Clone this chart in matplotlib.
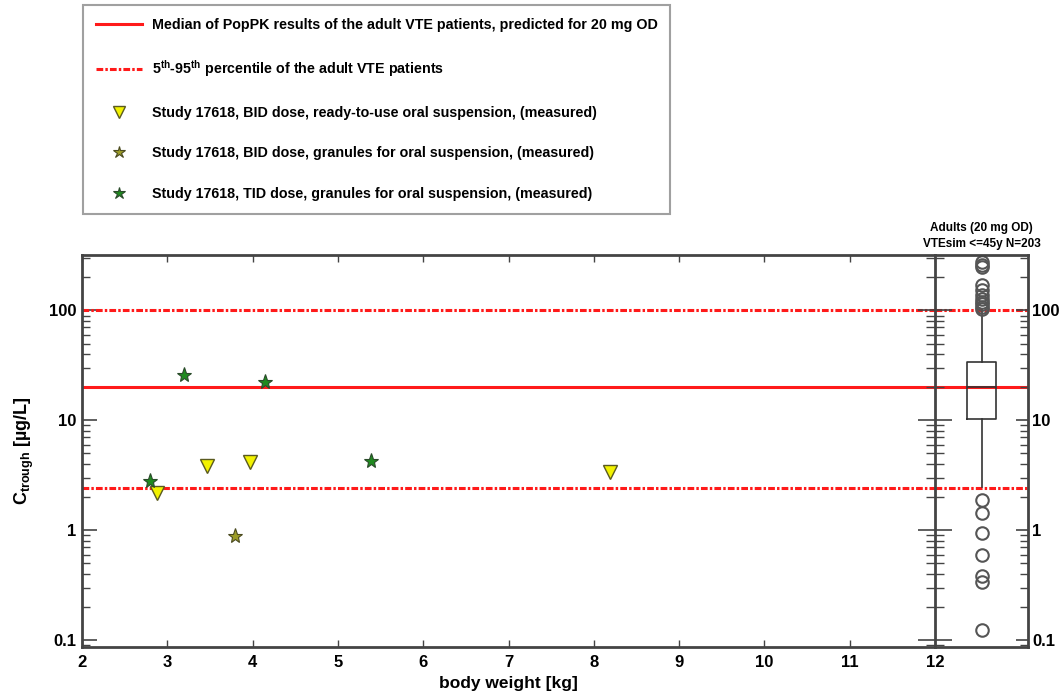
import matplotlib
matplotlib.use("Agg")
import matplotlib.pyplot as plt
from matplotlib.ticker import LogLocator, FixedLocator, NullFormatter

plt.rcParams['font.family'] = ['Liberation Sans', 'DejaVu Sans']
plt.rcParams['mathtext.fontset'] = 'custom'
plt.rcParams['mathtext.rm'] = 'Liberation Sans:bold'
plt.rcParams['mathtext.bf'] = 'Liberation Sans:bold'
plt.rcParams['mathtext.it'] = 'Liberation Sans:bold'

# Reference concentrations of adult VTE patients (20 mg OD)
adult_median = 20.0
adult_p05 = 2.4
adult_p95 = 100.0

# Study 17618 measured trough concentrations
rtu_bid_weight = [2.88, 3.47, 3.97, 8.19]
rtu_bid_ctrough = [2.17, 3.8, 4.13, 3.35]

gran_bid_weight = [3.79]
gran_bid_ctrough = [0.89]

gran_tid_weight = [2.80, 3.20, 4.15, 5.39]
gran_tid_ctrough = [2.83, 26.0, 22.2, 4.3]

# Simulated adults (<=45 y, N=203) summary for the box plot
box_q1 = 10.3
box_median = 20.0
box_q3 = 34.0
box_whisker_low = 2.45
box_whisker_high = 100.0
box_outliers = [260, 275, 250, 171, 153, 139, 128, 120, 114, 108, 103,
                1.9, 1.44, 0.95, 0.59, 0.38, 0.335, 0.123]

x_ticks = [2, 3, 4, 5, 6, 7, 8, 9, 10, 11, 12]
y_ticks = [0.1, 1, 10, 100]
y_ticklabels = ['0.1', '1', '10', '100']

W, H = 1063, 698
fig = plt.figure(figsize=(W / 100, H / 100), dpi=100)

frame_c = '#444444'
ax = fig.add_axes([82 / W, 1 - 647 / H, (935 - 82) / W, (647 - 255) / H])
axb = fig.add_axes([935 / W, 1 - 647 / H, (1028 - 935) / W, (647 - 255) / H], sharey=ax)

ylim = (0.0863, 320)

# reference lines
red = '#ff1a1a'
pct_dash = (0, (2.2, 0.7, 0.8, 0.7))
median_line, = ax.plot([2, 12], [adult_median, adult_median], color=red, lw=2.2)
pct_line, = ax.plot([2, 12], [adult_p05, adult_p05], color=red, lw=2.2, ls=pct_dash)
ax.plot([2, 12], [adult_p95, adult_p95], color=red, lw=2.2, ls=pct_dash)
for yv, ls in [(adult_median, '-'), (adult_p05, pct_dash), (adult_p95, pct_dash)]:
    axb.plot([0, 1], [yv, yv], color=red, lw=2.2, ls=ls, zorder=1)

# measured data
rtu, = ax.plot(rtu_bid_weight, rtu_bid_ctrough, ls='none', marker='v', ms=10,
               mfc='#f2f200', mec='#5a5a20', mew=1.0, zorder=5)
gbid, = ax.plot(gran_bid_weight, gran_bid_ctrough, ls='none', marker='*', ms=11,
                mfc='#9c9c28', mec='#4a4a20', mew=0.8, zorder=5)
gtid, = ax.plot(gran_tid_weight, gran_tid_ctrough, ls='none', marker='*', ms=11,
                mfc='#1f8a1f', mec='#2a4a2a', mew=0.8, zorder=5)

ax.set_yscale('log')
ax.set_xlim(2, 12)
ax.set_ylim(*ylim)
ax.set_xticks(x_ticks)
ax.set_xticklabels([str(t) for t in x_ticks], fontsize=12, fontweight='bold')
ax.yaxis.set_major_locator(FixedLocator(y_ticks))
ax.set_yticklabels(y_ticklabels, fontsize=12, fontweight='bold')
ax.yaxis.set_minor_locator(LogLocator(base=10, subs=range(2, 10)))
ax.yaxis.set_minor_formatter(NullFormatter())
ax.tick_params(axis='x', which='major', direction='in', top=True, bottom=True,
               length=5, width=1, color=frame_c, pad=6)
ax.tick_params(axis='y', which='major', direction='in', left=True, right=False,
               length=11, width=1.2, color=frame_c, pad=4)
ax.tick_params(axis='y', which='minor', direction='in', left=True, right=False,
               length=6, width=1, color=frame_c)
for s in ax.spines.values():
    s.set_color(frame_c)
    s.set_linewidth(2)
ax.spines['right'].set_visible(False)

ax.set_xlabel('body weight [kg]', fontsize=12.5, fontweight='bold', labelpad=4)
ax.set_ylabel(r'C$_{\mathbf{trough}}$ [µg/L]', fontsize=13, fontweight='bold', labelpad=9)

# box plot of simulated adults
stats = [dict(med=box_median, q1=box_q1, q3=box_q3, whislo=box_whisker_low,
              whishi=box_whisker_high, fliers=box_outliers)]
axb.bxp(stats, positions=[0.5], widths=0.32, showfliers=True,
        boxprops=dict(color='#333333', lw=1.2),
        medianprops=dict(color='#333333', lw=1.2),
        whiskerprops=dict(color='#333333', lw=1.2),
        capprops=dict(lw=0),
        flierprops=dict(marker='o', mfc='none', mec='#555555', ms=9, mew=1.5))
axb.set_xlim(0, 1)
axb.set_xticks([])
axb.yaxis.set_major_locator(FixedLocator(y_ticks))
axb.yaxis.set_minor_locator(LogLocator(base=10, subs=range(2, 10)))
axb.yaxis.set_minor_formatter(NullFormatter())
axb.tick_params(axis='y', which='both', labelleft=False, labelright=True, left=True, right=True)
axb.set_yticklabels(y_ticklabels, fontsize=12, fontweight='bold')
axb.tick_params(axis='y', which='major', direction='in', length=9, width=1.2, color=frame_c, pad=3)
axb.tick_params(axis='y', which='minor', direction='in', length=6, width=1, color=frame_c)
for s in axb.spines.values():
    s.set_color(frame_c)
    s.set_linewidth(2)
axb.set_title('Adults (20 mg OD)\nVTEsim <=45y N=203', fontsize=8.5, fontweight='bold',
              pad=6, linespacing=1.4)

# ticks on the divider between the two panels straddle the spine
for tk in axb.yaxis.get_major_ticks():
    tk.tick1line.set_marker('_')
    tk.tick1line.set_markersize(24)
for tk in axb.yaxis.get_minor_ticks():
    tk.tick1line.set_marker('_')
    tk.tick1line.set_markersize(13)

handles = [median_line, pct_line, rtu, gbid, gtid]
labels = ['Median of PopPK results of the adult VTE patients, predicted for 20 mg OD',
          r'5$^{\mathbf{th}}$-95$^{\mathbf{th}}$ percentile of the adult VTE patients',
          'Study 17618, BID dose, ready-to-use oral suspension, (measured)',
          'Study 17618, BID dose, granules for oral suspension, (measured)',
          'Study 17618, TID dose, granules for oral suspension, (measured)']
leg = fig.legend(handles, labels, loc='upper left', bbox_to_anchor=(83 / W, 1 - 5 / H),
                 prop=dict(family='Liberation Sans', weight='bold', size=10.3),
                 labelspacing=1.85, handlelength=3.2, handletextpad=0.7,
                 borderpad=0.9, borderaxespad=0, fancybox=False, frameon=True,
                 edgecolor='#888888', markerscale=0.8)
leg.get_frame().set_linewidth(1.5)

fig.savefig('out.png', dpi=100)
